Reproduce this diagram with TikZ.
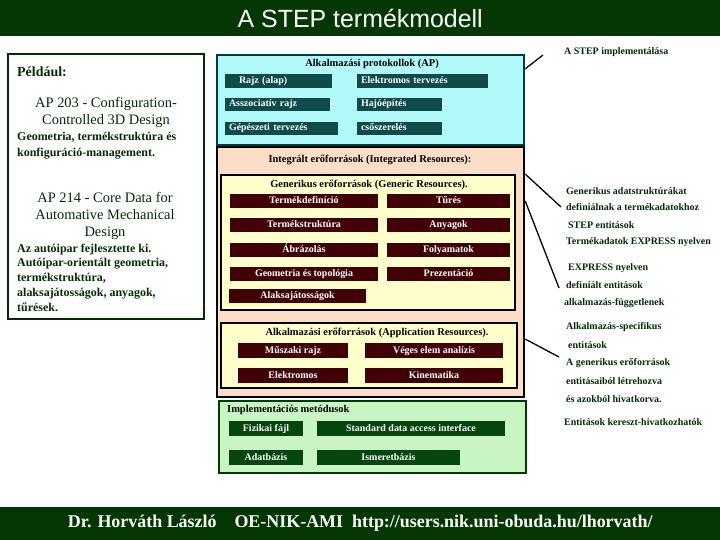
\documentclass[tikz,border=0pt]{standalone}
\usepackage{fontspec}
\setmainfont{Liberation Serif}
\newfontfamily\titlefont{Liberation Sans}
\usepackage{xcolor}
\usepackage{tikz}
\usetikzlibrary{positioning, calc}

\definecolor{bargreen}{RGB}{5,55,5}
\definecolor{textgreen}{RGB}{0,45,0}
\definecolor{apfill}{RGB}{178,250,250}
\definecolor{apborder}{RGB}{0,60,60}
\definecolor{apdark}{RGB}{15,75,75}
\definecolor{irfill}{RGB}{252,222,200}
\definecolor{genfill}{RGB}{255,255,204}
\definecolor{maroon}{RGB}{65,0,5}
\definecolor{implfill}{RGB}{200,245,195}
\definecolor{implborder}{RGB}{0,60,0}
\definecolor{impldark}{RGB}{5,70,15}

\newcommand\boxfont{\bfseries\fontsize{10}{11}\selectfont}
\newcommand\headfont{\bfseries\fontsize{10.5}{12}\selectfont}
\newcommand\notefont{\bfseries\fontsize{10}{12}\selectfont}

\begin{document}
\begin{tikzpicture}[x=1bp, y=-1bp,
  bar/.style={fill=bargreen, text=white, inner sep=0pt},
  container/.style={draw, inner sep=0pt},
  apbox/.style={fill=apdark, text=white, font=\boxfont, text width=#1, align=left, inner xsep=4bp, inner ysep=0pt, text height=7bp, text depth=2bp, minimum height=14bp},
  genbox/.style={fill=maroon, text=white, font=\boxfont, minimum width=#1, text height=7bp, text depth=2bp, minimum height=14bp, inner sep=0pt},
  implbox/.style={fill=impldark, text=white, font=\boxfont, minimum width=#1, text height=7bp, text depth=2bp, minimum height=15bp, inner sep=0pt},
  note/.style={anchor=west, text=textgreen, font=\notefont, inner sep=1bp},
  conn/.style={line width=1.3bp}]

\useasboundingbox (0,0) rectangle (720,540);

% Title and footer bars
\node[bar, anchor=north west, minimum width=720bp, minimum height=36bp, font=\titlefont\fontsize{25}{29}\selectfont] (titlebar) at (0,0) {A STEP termékmodell};
\node[bar, anchor=south west, minimum width=720bp, minimum height=33bp, font=\bfseries\fontsize{18}{21}\selectfont] (footer) at (0,540) {Dr. Horváth László\quad OE-NIK-AMI\enspace http://users.nik.uni-obuda.hu/lhorvath/};

% Left column: examples
\node[container, draw=textgreen, line width=2.5bp, minimum width=196bp, minimum height=265bp] (pelda) at (106,186.5) {};
\node[anchor=west, text=textgreen, font=\bfseries\fontsize{14}{17}\selectfont, inner sep=0pt] (peldacim) at (17,72) {Például:};
\node[text=textgreen, font=\fontsize{14.5}{17}\selectfont, align=center, inner sep=0pt] (ap203) at (106,112.5) {AP 203 - Configuration-\\Controlled 3D Design};
\node[anchor=west, text=textgreen, font=\bfseries\fontsize{12}{16}\selectfont, align=left, inner sep=0pt] (ap203txt) at (17,146) {Geometria, termékstruktúra és\\konfiguráció-management.};
\node[text=textgreen, font=\fontsize{14.5}{17}\selectfont, align=center, inner sep=0pt] (ap214) at (105,216) {AP 214 - Core Data for\\Automative Mechanical\\Design};
\node[anchor=west, text=textgreen, font=\bfseries\fontsize{12}{14.75}\selectfont, align=left, inner sep=0pt] (ap214txt) at (17,277.5) {Az autóipar fejlesztette ki.\\Autóipar-orientált geometria,\\termékstruktúra,\\alaksajátosságok, anyagok,\\tűrések.};

% Middle column: application protocols
\node[container, fill=apfill, draw=apborder, line width=2bp, minimum width=307bp, minimum height=90bp] (ap) at (370.5,100) {};
\node[font=\headfont] (aptitle) at (372,64) {Alkalmazási protokollok (AP)};
\node[apbox=99bp] (rajz) at (278.5,81) {\hspace*{10bp}Rajz (alap)};
\node[apbox=123bp] (elektr) at (422.5,81) {Elektromos tervezés};
\node[apbox=97bp, minimum height=13bp] (assz) at (277.5,104.5) {Asszociatív rajz};
\node[apbox=77bp, minimum height=13bp] (hajo) at (399.5,104.5) {Hajóépítés};
\node[apbox=105bp, minimum height=13bp] (gep) at (281.5,128.5) {Gépészeti tervezés};
\node[apbox=77bp, minimum height=13bp] (cso) at (399.5,128.5) {csőszerelés};

% Integrated resources
\node[container, fill=irfill, line width=2.5bp, minimum width=307bp, minimum height=250bp] (ir) at (370.5,272) {};
\node[font=\headfont] (irtitle) at (370,160) {Integrált erőforrások (Integrated Resources):};

% generic resources
\node[container, fill=genfill, line width=1.8bp, minimum width=294bp, minimum height=135bp] (gen) at (368,242.5) {};
\node[font=\headfont] (gentitle) at (369,185) {Generikus erőforrások (Generic Resources).};
\node[genbox=148bp] (termdef) at (304,201) {Termékdefiníció};
\node[genbox=123bp] (tures) at (448.5,201) {Tűrés};
\node[genbox=148bp] (termstr) at (304,225.5) {Termékstruktúra};
\node[genbox=123bp] (anyag) at (448.5,225.5) {Anyagok};
\node[genbox=148bp] (abraz) at (304,250) {Ábrázolás};
\node[genbox=123bp] (folyam) at (448.5,250) {Folyamatok};
\node[genbox=148bp] (geom) at (304,274) {Geometria és topológia};
\node[genbox=123bp] (prez) at (448.5,274) {Prezentáció};
\node[genbox=137bp] (alak) at (297.5,296) {Alaksajátosságok};

% application resources
\node[container, fill=genfill, line width=1.8bp, minimum width=296bp, minimum height=65bp] (appres) at (369,355.5) {};
\node[font=\headfont] (apptitle) at (377,333) {Alkalmazási erőforrások (Application Resources).};
\node[genbox=110bp, minimum height=15bp] (muszaki) at (293,350.5) {Műszaki rajz};
\node[genbox=138bp, minimum height=15bp] (veges) at (434,350.5) {Véges elem analízis};
\node[genbox=110bp, minimum height=15bp] (elektr2) at (293,375.5) {Elektromos};
\node[genbox=138bp, minimum height=15bp] (kinem) at (434,375.5) {Kinematika};

% Implementation methods
\node[container, fill=implfill, draw=implborder, line width=2bp, minimum width=307bp, minimum height=72bp] (impl) at (372.5,437) {};
\node[anchor=west, font=\headfont, inner sep=0pt] (impltitle) at (227,410) {Implementációs metódusok};
\node[implbox=74bp] (fizikai) at (266,428.5) {Fizikai fájl};
\node[implbox=188bp] (sdai) at (411,428.5) {Standard data access interface};
\node[implbox=74bp] (adatb) at (266,457.5) {Adatbázis};
\node[implbox=143bp] (ismeret) at (388.5,457.5) {Ismeretbázis};

% Right column: notes
\node[note] (impnote) at (563,52) {A STEP implementálása};
\node[note] (gennote1) at (565,191) {Generikus adatstruktúrákat};
\node[note] (gennote2) at (565,207) {definiálnak a termékadatokhoz};
\node[note] (stepnote) at (567,225) {STEP entitások};
\node[note] (tadnote) at (565,242) {Termékadatok EXPRESS nyelven};
\node[note] (expnote1) at (567,268) {EXPRESS nyelven};
\node[note] (expnote2) at (565,285) {definiált entitások};
\node[note] (fuggnote) at (563,303) {alkalmazás-függetlenek};
\node[note] (spnote1) at (565,327) {Alkalmazás-specifikus};
\node[note] (spnote2) at (567,345) {entitások};
\node[note] (spnote3) at (565,363) {A generikus erőforrások};
\node[note] (spnote4) at (565,381) {entitásaiból létrehozva};
\node[note] (spnote5) at (565,399) {és azokból hivatkorva.};
\node[note] (keresztnote) at (563,422) {Entitások kereszt-hivatkozhatók};

% pointer lines
\draw[conn] ($(ap.north east)+(0,15)$) -- ($(impnote.west)+(-20,3)$);
\draw[conn] (gen.north -| ir.east) -- ($(gennote2.west)+(-4,0)$);
\draw[conn] ($(gen.north -| ir.east)+(0,27)$) -- ($(expnote2.west)+(-6,3)$);
\draw[conn] ($(appres.north -| ir.east)+(0,17)$) -- ($(spnote2.west)+(-8,12)$);

\end{tikzpicture}
\end{document}
